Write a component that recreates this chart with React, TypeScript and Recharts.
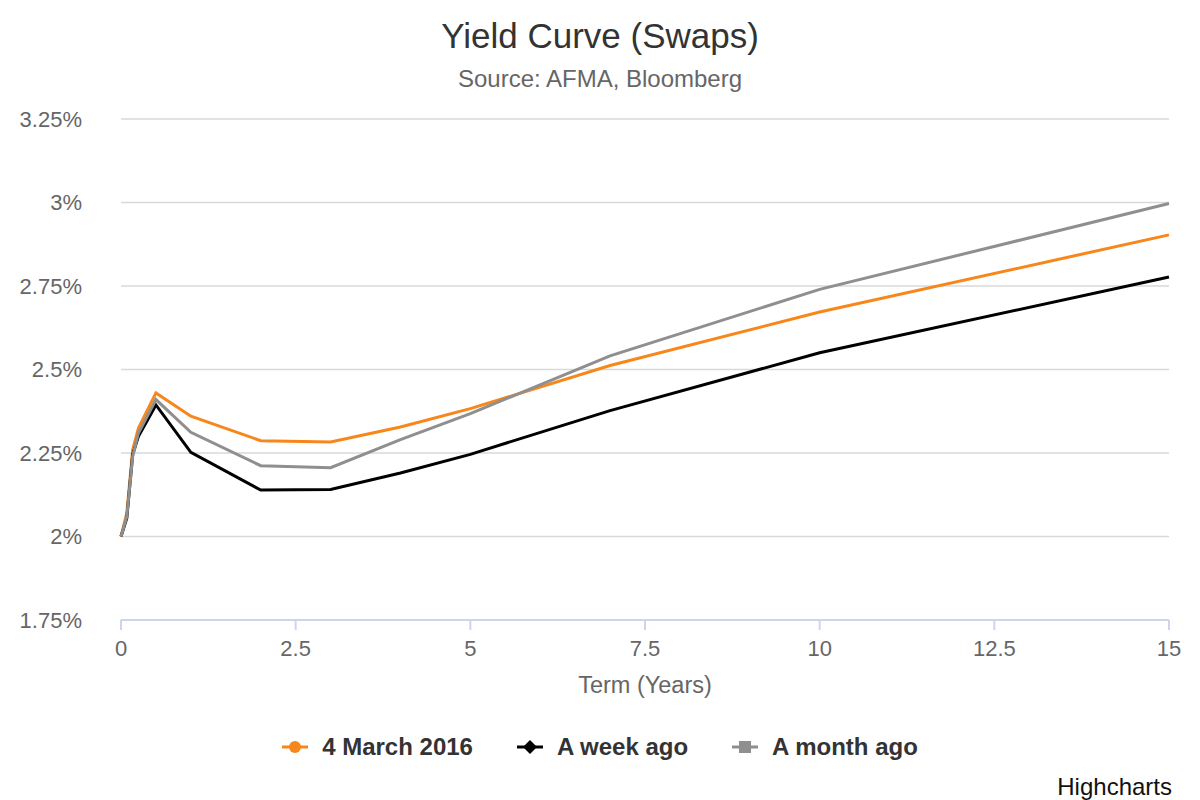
import React from 'react';
import { LineChart, Line, XAxis, YAxis, CartesianGrid, Legend, Label } from 'recharts';

const terms = [0, 0.083, 0.167, 0.25, 0.5, 1, 2, 3, 4, 5, 7, 10, 15];
const march4 = [2.0, 2.07, 2.26, 2.325, 2.43, 2.36, 2.287, 2.283, 2.328, 2.383, 2.512, 2.672, 2.903];
const weekAgo = [2.0, 2.055, 2.245, 2.3, 2.394, 2.252, 2.139, 2.141, 2.19, 2.246, 2.377, 2.55, 2.777];
const monthAgo = [2.0, 2.06, 2.24, 2.31, 2.41, 2.312, 2.212, 2.206, 2.29, 2.368, 2.541, 2.74, 2.997];

const seriesNames = ['4 March 2016', 'A week ago', 'A month ago'];
const seriesKeys = ['march4', 'weekAgo', 'monthAgo'];
const seriesColors = ['#f7861b', '#000000', '#8f8f8f'];
const seriesMarkers = ['circle', 'diamond', 'square'];

const yTicks = [1.75, 2, 2.25, 2.5, 2.75, 3, 3.25];
const xTicks = [0, 2.5, 5, 7.5, 10, 12.5, 15];

const titleText = 'Yield Curve (Swaps)';
const subtitleText = 'Source: AFMA, Bloomberg';
const xTitle = 'Term (Years)';
const creditText = 'Highcharts';

const data = terms.map((t, i) => ({
  term: t,
  march4: march4[i],
  weekAgo: weekAgo[i],
  monthAgo: monthAgo[i],
}));

const FONT = "'Liberation Sans', Arial, Helvetica, sans-serif";

function Marker({ type, color }: { type: string; color: string }) {
  return (
    <svg width={26} height={16} style={{ display: 'block' }}>
      <line x1={0} y1={8} x2={26} y2={8} stroke={color} strokeWidth={3} />
      {type === 'circle' && <circle cx={13} cy={8} r={6} fill={color} />}
      {type === 'diamond' && <path d="M13 1 L20 8 L13 15 L6 8 Z" fill={color} />}
      {type === 'square' && <rect x={7} y={2} width={12} height={12} fill={color} />}
    </svg>
  );
}

function LegendContent() {
  return (
    <div
      style={{
        display: 'flex',
        justifyContent: 'center',
        alignItems: 'center',
        gap: 44,
        fontFamily: FONT,
        fontWeight: 'bold',
        fontSize: 24,
        color: '#333333',
      }}
    >
      {seriesNames.map((name, i) => (
        <div key={name} style={{ display: 'flex', alignItems: 'center' }}>
          <Marker type={seriesMarkers[i]} color={seriesColors[i]} />
          <span style={{ marginLeft: 14 }}>{name}</span>
        </div>
      ))}
    </div>
  );
}

export default function App() {
  return (
    <div style={{ position: 'absolute', left: 0, top: 0, width: 1200, height: 800, background: '#fff' }}>
      <LineChart
        width={1200}
        height={800}
        data={data}
        margin={{ top: 119, right: 31, left: 21, bottom: 100 }}
        style={{ fontFamily: FONT }}
      >
        <CartesianGrid vertical={false} stroke="#d9d9d9" strokeWidth={1.5} />
        <XAxis
          dataKey="term"
          type="number"
          domain={[0, 15]}
          ticks={xTicks}
          height={80}
          stroke="#ccd6eb"
          strokeWidth={2}
          tickSize={10}
          tickMargin={10}
          tick={{ fill: '#666666', fontSize: 22, fontFamily: FONT }}
        >
          <Label value={xTitle} position="insideBottom" offset={7} fill="#666666" fontSize={23.5} fontFamily={FONT} />
        </XAxis>
        <YAxis
          type="number"
          domain={[1.75, 3.25]}
          ticks={yTicks}
          width={100}
          axisLine={false}
          tickLine={false}
          tickSize={0}
          tickMargin={39}
          tick={{ fill: '#666666', fontSize: 22, fontFamily: FONT }}
          tickFormatter={(v: number) => `${v}%`}
        />
        {seriesKeys.map((k, i) => (
          <Line
            key={k}
            dataKey={k}
            name={seriesNames[i]}
            type="linear"
            stroke={seriesColors[i]}
            strokeWidth={3}
            dot={false}
            activeDot={false}
            isAnimationActive={false}
          />
        ))}
        <Legend
          verticalAlign="middle"
          content={<LegendContent />}
          wrapperStyle={{ position: 'absolute', left: 0, top: 733, width: 1200, height: 30 }}
        />
      </LineChart>
      <svg
        width={1200}
        height={800}
        style={{ position: 'absolute', left: 0, top: 0, pointerEvents: 'none' }}
      >
        <text x={600} y={48} textAnchor="middle" fontSize={35} fill="#333333" fontFamily={FONT}>
          {titleText}
        </text>
        <text x={600} y={87} textAnchor="middle" fontSize={24} fill="#666666" fontFamily={FONT}>
          {subtitleText}
        </text>
        <text x={1172} y={795} textAnchor="end" fontSize={24} fill="#111111" fontFamily={FONT}>
          {creditText}
        </text>
      </svg>
    </div>
  );
}
